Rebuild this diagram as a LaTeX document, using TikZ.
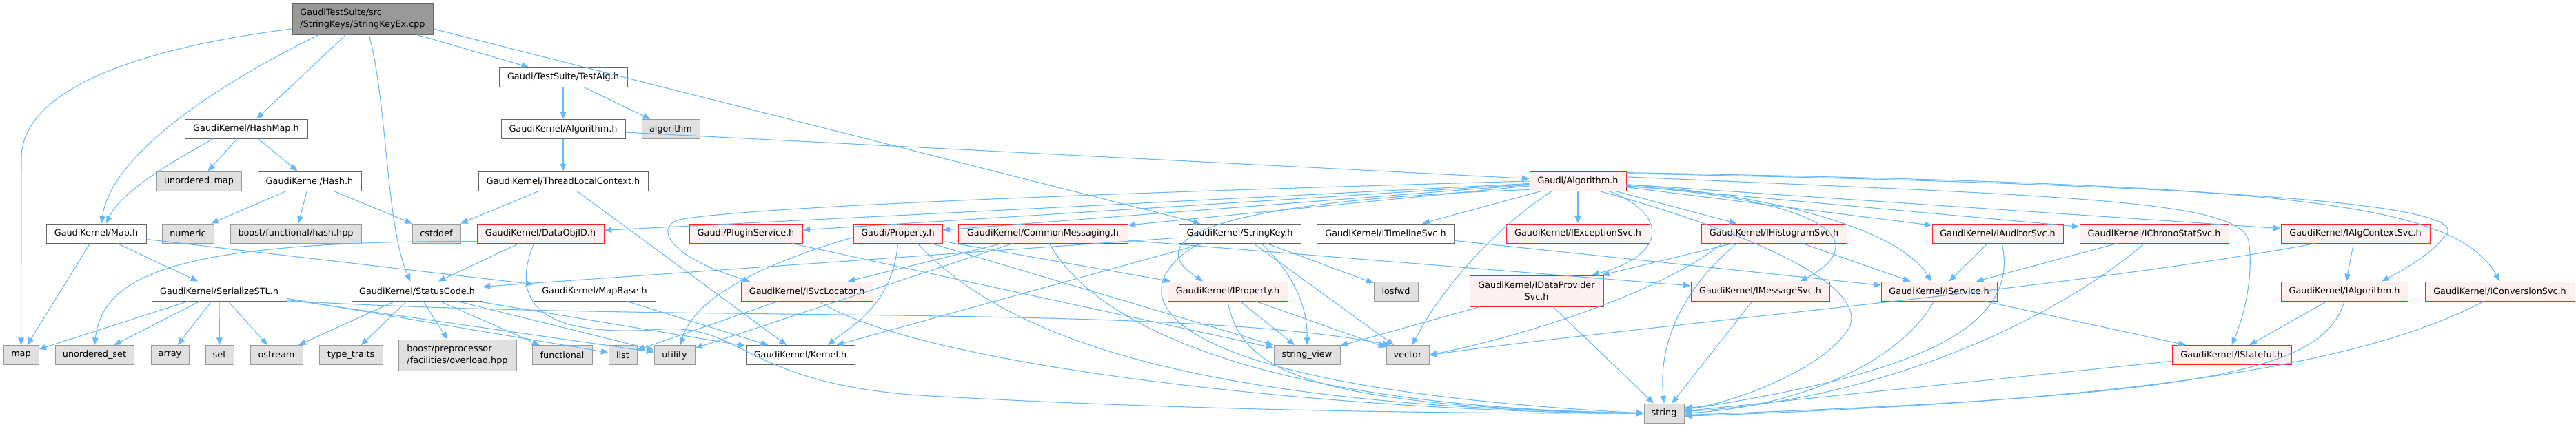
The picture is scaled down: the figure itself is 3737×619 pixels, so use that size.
\documentclass[tikz,border=0pt]{standalone}
\usepackage{fontspec}
\setmainfont{DejaVu Sans}
\usetikzlibrary{arrows.meta}
\definecolor{edgec}{HTML}{63B8FF}
\definecolor{redb}{HTML}{FF2020}
\definecolor{redf}{HTML}{FFF0F0}
\definecolor{sysf}{HTML}{E0E0E0}
\definecolor{sysb}{HTML}{999999}
\definecolor{fileb}{HTML}{666666}
\definecolor{mainf}{HTML}{999999}
\begin{document}
\begin{tikzpicture}[x=0.75pt,y=-0.75pt,
  nbase/.style={draw,rectangle,inner sep=0pt,line width=0.75pt,minimum height=21pt,text=black,font=\fontsize{9.6pt}{13pt}\selectfont},
  filen/.style={nbase,draw=fileb,fill=white},
  sysn/.style={nbase,draw=sysb,fill=sysf},
  redn/.style={nbase,draw=redb,fill=redf},
  mainn/.style={nbase,draw=fileb,fill=mainf},
  bw/.style={minimum width=#1*0.75pt},
  tall/.style={minimum height=33.75pt},
  edge/.style={draw=edgec,line width=0.8pt,-{Triangle[length=8pt,width=6.5pt]}}]
\useasboundingbox (0,0) rectangle (3737,619);
% nodes
\node[mainn,bw=204,tall,align=left] (src) at (526,27.5) {GaudiTestSuite/src\\/StringKeys/StringKeyEx.cpp};
\node[filen,bw=178] (hashmap) at (357,187) {GaudiKernel/HashMap.h};
\node[sysn,bw=123] (umap) at (288.5,263) {unordered\_map};
\node[filen,bw=150] (hash) at (449,263) {GaudiKernel/Hash.h};
\node[filen,bw=145] (mapH) at (139.5,339) {GaudiKernel/Map.h};
\node[sysn,bw=75] (numeric) at (272.5,339) {numeric};
\node[sysn,bw=190] (boosthash) at (429,339) {boost/functional/hash.hpp};
\node[sysn,bw=70] (cstddef) at (633,339) {cstddef};
\node[filen,bw=196] (serial) at (318,423) {GaudiKernel/SerializeSTL.h};
\node[filen,bw=190] (status) at (605,423) {GaudiKernel/StatusCode.h};
\node[sysn,bw=51] (map) at (30.5,515.5) {map};
\node[sysn,bw=114] (uset) at (137,515.5) {unordered\_set};
\node[sysn,bw=55] (array) at (246.5,515.5) {array};
\node[sysn,bw=41] (set) at (318.5,515.5) {set};
\node[sysn,bw=76] (ostream) at (401,515.5) {ostream};
\node[sysn,bw=92] (typetraits) at (509,515.5) {type\_traits};
\node[sysn,bw=171,tall,align=left] (boostpp) at (663.5,515.5) {boost/preprocessor\\/facilities/overload.hpp};
\node[filen,bw=186] (testalg) at (817,112) {Gaudi/TestSuite/TestAlg.h};
\node[filen,bw=180] (kalg) at (817,187.5) {GaudiKernel/Algorithm.h};
\node[sysn,bw=84] (algorithm) at (973,187.5) {algorithm};
\node[filen,bw=246] (tlc) at (817,263) {GaudiKernel/ThreadLocalContext.h};
\node[redn,bw=184] (dataobjid) at (784,339) {GaudiKernel/DataObjID.h};
\node[redn,bw=164] (plugin) at (1082,339) {Gaudi/PluginService.h};
\node[filen,bw=177] (mapbase) at (862.5,423) {GaudiKernel/MapBase.h};
\node[redn,bw=191] (svcloc) at (1170.5,423) {GaudiKernel/ISvcLocator.h};
\node[sysn,bw=87] (functional) at (815.5,515.5) {functional};
\node[sysn,bw=41] (list) at (903.5,515.5) {list};
\node[sysn,bw=59] (utility) at (978.5,515.5) {utility};
\node[filen,bw=158] (kernel) at (1161,515.5) {GaudiKernel/Kernel.h};
\node[redn,bw=129] (property) at (1302.5,339) {Gaudi/Property.h};
\node[redn,bw=246] (commsg) at (1513,339) {GaudiKernel/CommonMessaging.h};
\node[filen,bw=177] (stringkey) at (1798.5,339) {GaudiKernel/StringKey.h};
\node[redn,bw=174] (iprop) at (1781,423) {GaudiKernel/IProperty.h};
\node[sysn,bw=96] (stringview) at (1896,515.5) {string\_view};
\node[redn,bw=140] (galg) at (2289,263) {Gaudi/Algorithm.h};
\node[filen,bw=200] (timeline) at (2010,339) {GaudiKernel/ITimelineSvc.h};
\node[redn,bw=208] (iexc) at (2289,339) {GaudiKernel/IExceptionSvc.h};
\node[sysn,bw=64] (iosfwd) at (2025,423) {iosfwd};
\node[redn,bw=194,tall,align=center] (idp) at (2229,422.5) {GaudiKernel/IDataProvider\\Svc.h};
\node[sysn,bw=62] (vector) at (2042,515.5) {vector};
\node[sysn,bw=58] (string) at (2414,600) {string};
\node[redn,bw=211] (ihist) at (2573.5,339) {GaudiKernel/IHistogramSvc.h};
\node[redn,bw=201] (imsg) at (2553.5,423) {GaudiKernel/IMessageSvc.h};
\node[redn,bw=190] (iaud) at (2898,339) {GaudiKernel/IAuditorSvc.h};
\node[redn,bw=216] (ichrono) at (3125,339) {GaudiKernel/IChronoStatSvc.h};
\node[redn,bw=168] (iservice) at (2813,423) {GaudiKernel/IService.h};
\node[redn,bw=216] (ialgctx) at (3417,339) {GaudiKernel/IAlgContextSvc.h};
\node[redn,bw=184] (ialg) at (3401,423) {GaudiKernel/IAlgorithm.h};
\node[redn,bw=217] (iconv) at (3626.5,423) {GaudiKernel/IConversionSvc.h};
\node[redn,bw=173] (istateful) at (3237.5,515.5) {GaudiKernel/IStateful.h};
% edges
\draw[edge] (src.188) .. controls (200,70) and (31,130) .. (31,230) -- (map.north);
\draw[edge] (src.200) .. controls (300,130) and (160,230) .. (mapH.62);
\draw[edge] (src) -- (hashmap);
\draw[edge] (src.292) .. controls (562,150) and (560,330) .. (status.123);
\draw[edge] (src) -- (testalg);
\draw[edge] (src.-8) -- (stringkey);
\draw[edge] (hashmap.197) .. controls (240,240) and (175,280) .. (mapH.45);
\draw[edge] (hashmap) -- (umap);
\draw[edge] (hashmap) -- (hash);
\draw[edge] (hash) -- (numeric);
\draw[edge] (hash) -- (boosthash);
\draw[edge] (hash) -- (cstddef);
\draw[edge] (mapH) -- (map);
\draw[edge] (mapH) -- (serial);
\draw[edge] (mapH) -- (mapbase);
\draw[edge] (serial) -- (map);
\draw[edge] (serial) -- (uset);
\draw[edge] (serial) -- (array);
\draw[edge] (serial) -- (set);
\draw[edge] (serial) -- (ostream);
\draw[edge] (serial.-6) -- (list);
\draw[edge] (serial.-7) -- (utility);
\draw[edge] (serial.-8) .. controls (1000,470) and (1700,440) .. (vector.150);
\draw[edge] (status) -- (ostream);
\draw[edge] (status) -- (typetraits);
\draw[edge] (status) -- (boostpp);
\draw[edge] (status) -- (functional);
\draw[edge] (status) -- (utility);
\draw[edge] (status) -- (kernel);
\draw[edge] (dataobjid) -- (status);
\draw[edge] (dataobjid.187) .. controls (250,350) and (150,400) .. (uset.north);
\draw[edge] (dataobjid.237) .. controls (735,450) and (800,490) .. (960,478) .. controls (1080,470) and (1080,560) .. (1350,575) .. controls (1800,600) and (2200,600) .. (string.west);
\draw[edge] (tlc) -- (cstddef);
\draw[edge] (tlc) -- (kernel);
\draw[edge] (testalg) -- (kalg);
\draw[edge] (testalg) -- (algorithm);
\draw[edge] (kalg) -- (tlc);
\draw[edge] (kalg) -- (galg);
\draw[edge] (mapbase) -- (kernel);
\draw[edge] (svcloc) -- (list);
\draw[edge] (svcloc.320) .. controls (1350,540) and (2000,600) .. (string.west);
\draw[edge] (plugin) -- (stringview);
\draw[edge] (property) -- (iprop);
\draw[edge] (property) -- (stringview);
\draw[edge] (property.333) .. controls (1450,480) and (1700,590) .. (string.west);
\draw[edge] (property.south) .. controls (1295,440) and (1240,470) .. (kernel.20);
\draw[edge] (property.185) .. controls (1150,370) and (1010,420) .. (utility.59);
\draw[edge] (commsg) -- (svcloc);
\draw[edge] (commsg) -- (utility);
\draw[edge] (commsg) -- (imsg);
\draw[edge] (commsg.303) .. controls (1580,460) and (1800,590) .. (string.west);
\draw[edge] (stringkey) -- (status);
\draw[edge] (stringkey) -- (kernel);
\draw[edge] (stringkey) -- (iosfwd);
\draw[edge] (stringkey) -- (vector);
\draw[edge] (stringkey.335) .. controls (1880,400) and (1897,450) .. (stringview.north);
\draw[edge] (stringkey.194) .. controls (1620,420) and (1640,560) .. (string.west);
\draw[edge] (iprop) -- (stringview);
\draw[edge] (iprop) -- (vector);
\draw[edge] (iprop.south) .. controls (1800,540) and (1900,590) .. (string.west);
\draw[edge] (galg) -- (dataobjid);
\draw[edge] (galg) -- (plugin);
\draw[edge] (galg) -- (property);
\draw[edge] (galg) -- (commsg);
\draw[edge] (galg.west) .. controls (1600,280) and (1100,300) .. (990,318) .. controls (950,325) and (960,370) .. (svcloc.170);
\draw[edge] (galg) -- (timeline);
\draw[edge] (galg) -- (iexc);
\draw[edge] (galg.201) .. controls (2170,330) and (2090,420) .. (vector.65);
\draw[edge] (galg.342) .. controls (2420,310) and (2420,370) .. (idp.16);
\draw[edge] (galg.190) .. controls (1800,290) and (1640,340) .. (iprop.158);
\draw[edge] (galg) -- (ihist);
\draw[edge] (galg.354) .. controls (2650,290) and (2720,350) .. (imsg.14);
\draw[edge] (galg.356) .. controls (2600,285) and (2760,340) .. (iservice.128);
\draw[edge] (galg) -- (iaud);
\draw[edge] (galg) -- (ichrono);
\draw[edge] (galg) -- (ialgctx);
\draw[edge] (galg.9) .. controls (3300,270) and (3600,300) .. (3545,345) .. controls (3520,375) and (3480,395) .. (ialg.15);
\draw[edge] (galg.10) .. controls (3300,268) and (3560,290) .. (iconv.north);
\draw[edge] (galg.5) .. controls (3000,285) and (3250,290) .. (3262,350) .. controls (3270,400) and (3255,460) .. (istateful.north);
\draw[edge] (galg.335) .. controls (2550,340) and (2720,420) .. (2680,480) .. controls (2640,540) and (2500,590) .. (string.15);
\draw[edge] (timeline) -- (iservice);
\draw[edge] (idp) -- (stringview);
\draw[edge] (idp) -- (string);
\draw[edge] (ihist) -- (idp);
\draw[edge] (ihist) -- (iservice);
\draw[edge] (ihist.191) .. controls (2400,430) and (2200,490) .. (vector.east);
\draw[edge] (ihist.195) .. controls (2440,420) and (2405,500) .. (string.north);
\draw[edge] (imsg) -- (string);
\draw[edge] (iaud) -- (iservice);
\draw[edge] (iaud.293) .. controls (2930,470) and (2800,540) .. (string.10);
\draw[edge] (ichrono) -- (iservice);
\draw[edge] (ichrono.225) .. controls (3000,450) and (2750,580) .. (string.5);
\draw[edge] (iservice) -- (istateful);
\draw[edge] (iservice.243) .. controls (2760,520) and (2620,590) .. (string.0);
\draw[edge] (ialgctx) -- (ialg);
\draw[edge] (ialgctx.194) .. controls (3000,420) and (2400,470) .. (vector.east);
\draw[edge] (ialg) -- (istateful);
\draw[edge] (ialg.south) .. controls (3370,540) and (3200,575) .. (string.-5);
\draw[edge] (iconv.212) .. controls (3400,545) and (3000,585) .. (string.-8);
\draw[edge] (istateful) -- (string);
\end{tikzpicture}
\end{document}
